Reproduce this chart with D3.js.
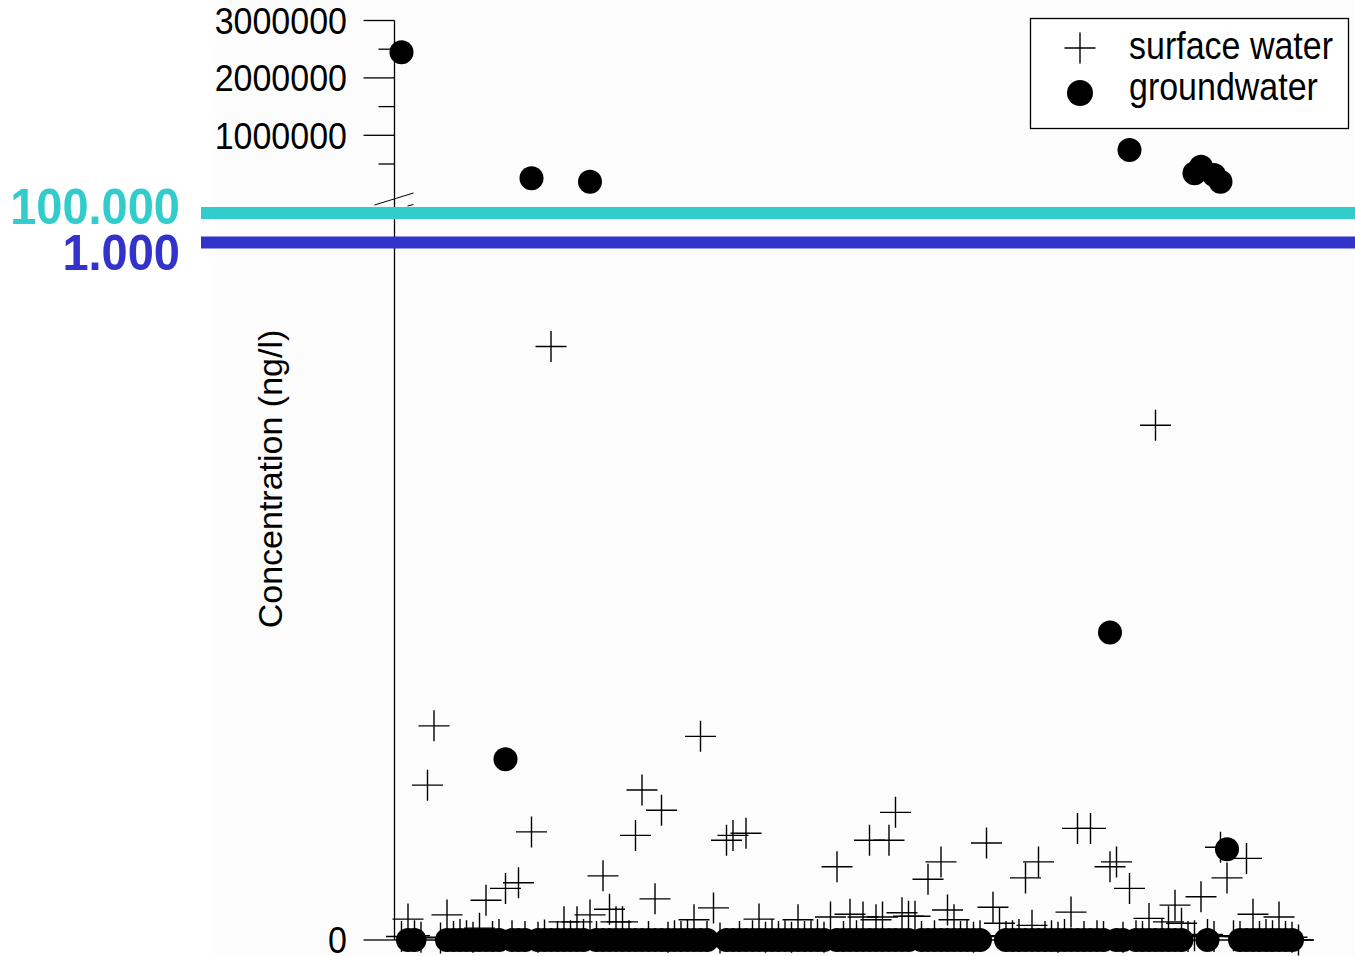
<!DOCTYPE html>
<html>
<head>
<meta charset="utf-8">
<script src="https://cdn.jsdelivr.net/npm/d3@7"></script>
<style>
  body { margin: 0; background: #fff; }
  svg { display: block; }
</style>
</head>
<body>
<div id="chart"></div>
<script>
// concentrations (ng/l) per sample number 1..139
const surfaceWater = [
  5, 30, 6, 4, 222, 307, 3, 36, 5, 8,
  6, 4, 17, 57, 5, 8, 74, 6, 82, 5,
  155, 4, 7, 851, 5, 26, 6, 26, 8, 36,
  5, 92, 44, 26, 26, 6, 150, 215, 5, 59,
  186, 4, 6, 5, 8, 29, 292, 5, 46, 3,
  143, 150, 5, 153, 6, 30, 4, 8, 5, 6,
  4, 29, 5, 6, 8, 4, 33, 105, 5, 37,
  6, 33, 143, 29, 33, 143, 183, 39, 34, 34,
  5, 87, 6, 112, 43, 29, 5, 8, 4, 6,
  139, 47, 24, 5, 6, 8, 89, 21, 112, 5,
  6, 4, 8, 40, 160, 5, 160, 6, 5, 105,
  112, 4, 74, 6, 5, 31, 738, 8, 26, 50,
  24, 5, 6, 62, 8, 5, 133, 89, 6, 5,
  117, 37, 5, 8, 6, 33, 5, 4, 0
];
const groundwater = [
  2446000, 0, 0, null, null, null, null, 0, 0, 0,
  0, 0, 0, 0, 0, 0, 259, 0, 0, 0,
  251000, 0, 0, 0, 0, 0, 0, 0, 0, 192000,
  0, 0, 0, 0, 0, 0, 0, 0, 0, 0,
  0, 0, 0, 0, 0, 0, 0, 0, null, null,
  0, 0, 0, 0, 0, 0, 0, 0, 0, 0,
  0, 0, 0, 0, 0, 0, null, 0, 0, 0,
  0, 0, 0, 0, 0, 0, 0, 0, 0, null,
  0, 0, 0, 0, 0, 0, 0, 0, 0, 0,
  null, null, null, 0, 0, 0, 0, 0, 0, 0,
  0, 0, 0, 0, 0, 0, 0, 0, 0, 441,
  0, 0, 744000, 0, 0, 0, 0, 0, 0, 0,
  0, null, 338000, 453000, 0, 308000, 192000, 130, null, 0,
  0, 0, 0, 0, 0, 0, 0, 0, null
];
const seriesNames = ["surface water", "groundwater"];
const upperMajorTicks = [1000000, 2000000, 3000000];
const upperMinorTicks = [500000, 1500000, 2500000];
const lowerTicks = [0];
const limitLabels = ["100.000", "1.000"];
const limitValues = [100000, 1000];
const limitColors = ["#33cccc", "#3333cc"];

const width = 1355, height = 956;
const font = "Arial, 'Liberation Sans', sans-serif";

const svg = d3.select("#chart").append("svg")
    .attr("width", width)
    .attr("height", height);

// faint background of the pasted chart
svg.append("rect")
    .attr("x", 215).attr("y", 0)
    .attr("width", width - 215).attr("height", height)
    .attr("fill", "#fcfcfc");

const x = d3.scaleLinear().domain([0, 140]).range([395, 1305]);
// broken axis: lower part linear 0..1000, upper part linear 0..3,000,000
const yLow = d3.scaleLinear().domain([0, 1000]).range([940, 242.5]);
const yHigh = d3.scaleLinear().domain([0, 3000000]).range([192.7, 20.5]);
const y = v => v > 1000 ? yHigh(v) : yLow(v);

const axisX = 394.5;
const breakY = 199;

const axes = svg.append("g")
    .attr("stroke", "#000")
    .attr("stroke-width", 1.3);

// y axis line
axes.append("line")
    .attr("x1", axisX).attr("x2", axisX)
    .attr("y1", yHigh(3000000)).attr("y2", yLow(0));

// x axis line
axes.append("line")
    .attr("x1", axisX).attr("x2", x(140) + 8)
    .attr("y1", yLow(0)).attr("y2", yLow(0));

// ticks
axes.selectAll(".major")
    .data(upperMajorTicks.map(yHigh).concat(lowerTicks.map(yLow)))
    .enter().append("line")
    .attr("x1", axisX - 31).attr("x2", axisX)
    .attr("y1", d => d).attr("y2", d => d);

axes.selectAll(".minor")
    .data(upperMinorTicks)
    .enter().append("line")
    .attr("x1", axisX - 16).attr("x2", axisX)
    .attr("y1", d => yHigh(d)).attr("y2", d => yHigh(d));

// break marks
axes.append("line")
    .attr("x1", axisX - 20).attr("y1", breakY + 6)
    .attr("x2", axisX + 19).attr("y2", breakY - 6)
    .attr("stroke-width", 1);
axes.append("line")
    .attr("x1", axisX + 13).attr("y1", breakY + 7)
    .attr("x2", axisX + 19).attr("y2", breakY + 5.5)
    .attr("stroke-width", 1);

// tick labels
const tickLabels = upperMajorTicks.map(v => ({v: v, y: yHigh(v)}))
    .concat(lowerTicks.map(v => ({v: v, y: yLow(v)})));
svg.selectAll(".tl")
    .data(tickLabels)
    .enter().append("g")
    .attr("transform", d => "translate(347," + d.y + ") scale(1,1.1)")
    .append("text")
    .attr("text-anchor", "end")
    .attr("dy", "0.36em")
    .style("font-family", font)
    .style("font-size", "34px")
    .attr("fill", "#000")
    .text(d => d.v);

// axis title
svg.append("text")
    .attr("transform", "translate(282,479) rotate(-90)")
    .attr("text-anchor", "middle")
    .style("font-family", font)
    .style("font-size", "34px")
    .attr("fill", "#000")
    .text("Concentration (ng/l)");

// limit lines: 1.000 sits on the lower scale, 100.000 marks the axis break
const limitY = [213, yLow(limitValues[1])];
const labelBaseline = [224, 270];
limitLabels.forEach((label, i) => {
    svg.append("line")
        .attr("x1", 201).attr("x2", width)
        .attr("y1", limitY[i]).attr("y2", limitY[i])
        .attr("stroke", limitColors[i])
        .attr("stroke-width", 12);
    svg.append("g")
        .attr("transform", "translate(180," + labelBaseline[i] + ") scale(1,1.07)")
        .append("text")
        .attr("text-anchor", "end")
        .style("font-family", font)
        .style("font-size", "47px")
        .style("font-weight", "bold")
        .attr("fill", limitColors[i])
        .text(label);
});

// data
const crossPath = "M-15.5,0H15.5M0,-15.5V15.5";

svg.append("g").selectAll("path")
    .data(surfaceWater.map((v, i) => ({i: i + 1, v: v})).filter(d => d.v !== null))
    .enter().append("path")
    .attr("d", crossPath)
    .attr("transform", d => "translate(" + x(d.i) + "," + y(d.v) + ")")
    .attr("fill", "none")
    .attr("stroke", "#000")
    .attr("stroke-width", 1.4);

svg.append("g").selectAll("circle")
    .data(groundwater.map((v, i) => ({i: i + 1, v: v})).filter(d => d.v !== null))
    .enter().append("circle")
    .attr("cx", d => x(d.i))
    .attr("cy", d => y(d.v))
    .attr("r", 12)
    .attr("fill", "#000");

// legend
const legend = svg.append("g");
legend.append("rect")
    .attr("x", 1030.5).attr("y", 18.5)
    .attr("width", 318).attr("height", 110)
    .attr("fill", "#fff")
    .attr("stroke", "#000")
    .attr("stroke-width", 1.3);
legend.append("path")
    .attr("d", crossPath)
    .attr("transform", "translate(1080,48)")
    .attr("stroke", "#000")
    .attr("stroke-width", 1.4);
legend.append("circle")
    .attr("cx", 1080).attr("cy", 93)
    .attr("r", 13)
    .attr("fill", "#000");
legend.selectAll(".lt")
    .data(seriesNames)
    .enter().append("g")
    .attr("transform", (d, i) => "translate(1129," + (i === 0 ? 58.5 : 99.5) + ") scale(1,1.15)")
    .append("text")
    .style("font-family", font)
    .style("font-size", "34px")
    .attr("fill", "#000")
    .text(d => d);
</script>
</body>
</html>
